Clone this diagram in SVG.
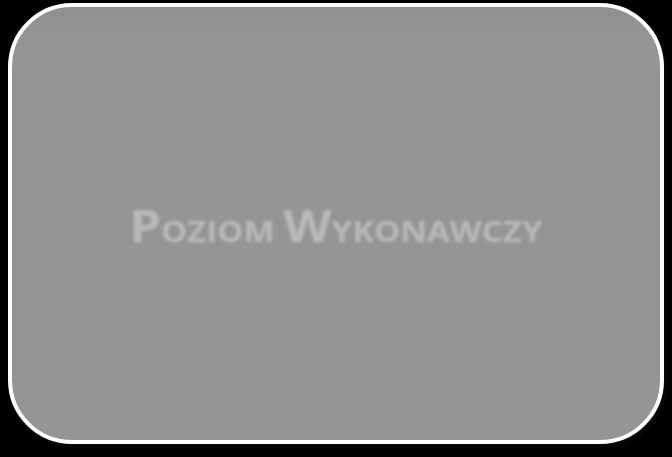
<svg xmlns="http://www.w3.org/2000/svg" width="672" height="457" viewBox="0 0 672 457">
<defs>
<filter id="blur" x="-10%" y="-50%" width="120%" height="200%"><feGaussianBlur stdDeviation="1.4"/></filter>
<filter id="shadow" x="-10%" y="-10%" width="120%" height="120%"><feGaussianBlur stdDeviation="4"/></filter>
<linearGradient id="inner" x1="0" y1="0" x2="0" y2="1">
<stop offset="0" stop-color="#8e8e8e"/>
<stop offset="0.06" stop-color="#959595"/>
<stop offset="1" stop-color="#959595"/>
</linearGradient>
<style>
.lbl{font-family:"Open Sans","Liberation Sans",sans-serif;font-weight:700;fill:#b9b9b9}
</style>
</defs>
<rect x="0" y="0" width="672" height="457" fill="#000"/>
<g id="node-poziom">
<rect x="12" y="8" width="652" height="437" rx="62" ry="62" fill="#1a1a1a" opacity="0.6" filter="url(#shadow)"/>
<rect x="10" y="5" width="652" height="437" rx="62" ry="62" fill="url(#inner)" stroke="#ffffff" stroke-width="4"/>
<text class="lbl" x="336" y="242" text-anchor="middle" filter="url(#blur)" textLength="413" lengthAdjust="spacingAndGlyphs"><tspan font-size="44">P</tspan><tspan font-size="29">OZIOM </tspan><tspan font-size="44">W</tspan><tspan font-size="29">YKONAWCZY</tspan></text>
</g>
<g id="connectors"/>
</svg>
